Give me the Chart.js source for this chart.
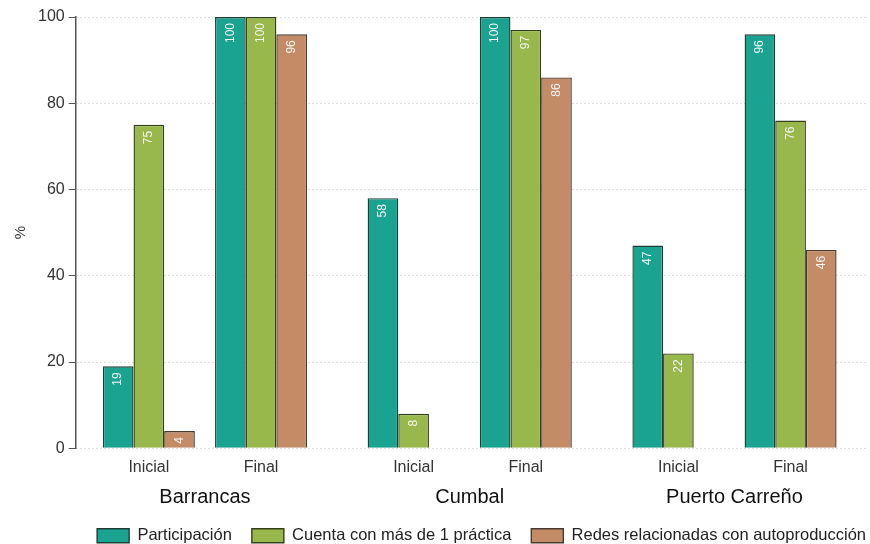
<!DOCTYPE html>
<html>
<head>
<meta charset="utf-8">
<script src="https://cdn.jsdelivr.net/npm/chart.js@4"></script>
<style>
  html, body { margin: 0; padding: 0; background: #fff; }
  #wrap { width: 870px; height: 544px; }
</style>
</head>
<body>
<div id="wrap"><canvas id="grafico"></canvas></div>
<script>
// datos
const paises = ['Barrancas', 'Cumbal', 'Puerto Carreño'];
const momentos = ['Inicial', 'Final'];
const participacion = [19, 100, 58, 100, 47, 96];
const cuentaPracticas = [75, 100, 8, 97, 22, 76];
const redesAutoproduccion = [4, 96, null, 86, null, 46];
const yTicks = [0, 20, 40, 60, 80, 100];

// separacion entre paises (en unidades de "momento")
const salto = 2.36;
const posicion = i => Math.floor(i / momentos.length) * salto + (i % momentos.length);
const posMomentos = participacion.map((v, i) => posicion(i));
const posPaises = paises.map((p, g) => g * salto + (momentos.length - 1) / 2);

const serie = arr => arr.map((v, i) => ({ x: posicion(i), y: v }));

const fuente = "'Liberation Sans', Arial, sans-serif";

// etiquetas verticales dentro de las barras
const etiquetas = {
    id: 'etiquetas',
    afterDatasetsDraw(chart) {
        const ctx = chart.ctx;
        ctx.save();
        ctx.font = '12px ' + fuente;
        ctx.fillStyle = '#f4f4f4';
        ctx.textAlign = 'right';
        ctx.textBaseline = 'middle';
        chart.data.datasets.forEach((ds, di) => {
            chart.getDatasetMeta(di).data.forEach((bar, i) => {
                const v = ds.data[i].y;
                if (v === null) return;
                ctx.save();
                ctx.translate(bar.x, bar.y + 6);
                ctx.rotate(-Math.PI / 2);
                ctx.fillText(String(v), 0, 0);
                ctx.restore();
            });
        });
        ctx.restore();
    }
};

// la leyenda queda pegada al borde derecho
const correrLeyenda = {
    id: 'correrLeyenda',
    afterLayout(chart) {
        if (chart.legend) {
            chart.legend.left += 18;
            chart.legend.right += 18;
        }
    }
};

const ctx = document.getElementById('grafico').getContext('2d');
new Chart(ctx, {
    type: 'bar',
    data: {
        datasets: [
            { label: 'Participación', data: serie(participacion),
              backgroundColor: '#1aa391', borderColor: '#1d3f37', borderWidth: 1.4 },
            { label: 'Cuenta con más de 1 práctica', data: serie(cuentaPracticas),
              backgroundColor: '#99b84b', borderColor: '#34401c', borderWidth: 1.4 },
            { label: 'Redes relacionadas con autoproducción', data: serie(redesAutoproduccion),
              backgroundColor: '#c38c66', borderColor: '#4a3a2e', borderWidth: 1.4 }
        ]
    },
    options: {
        responsive: true,
        maintainAspectRatio: false,
        animation: false,
        categoryPercentage: 0.82,
        barPercentage: 1,
        layout: { padding: { top: 17, right: 2, left: 8, bottom: -10 } },
        plugins: {
            tooltip: { enabled: false },
            legend: {
                position: 'bottom',
                align: 'end',
                labels: {
                    boxWidth: 32, boxHeight: 14, padding: 20,
                    color: '#222', font: { family: fuente, size: 16.5 }
                }
            }
        },
        scales: {
            x: {
                type: 'linear',
                offset: false,
                min: -0.652, max: 6.41,
                weight: 0,
                grid: { display: false },
                border: { display: false },
                afterBuildTicks: axis => { axis.ticks = posMomentos.map(v => ({ value: v })); },
                ticks: {
                    autoSkip: false, maxRotation: 0, padding: 2,
                    color: '#333', font: { family: fuente, size: 16 },
                    callback: (v, i) => momentos[i % momentos.length]
                }
            },
            x2: {
                type: 'linear',
                position: 'bottom',
                offset: false,
                min: -0.652, max: 6.41,
                weight: 1,
                grid: { display: false },
                border: { display: false },
                afterBuildTicks: axis => { axis.ticks = posPaises.map(v => ({ value: v })); },
                ticks: {
                    autoSkip: false, maxRotation: 0, padding: -2,
                    color: '#111', font: { family: fuente, size: 20 },
                    callback: (v, i) => paises[i]
                }
            },
            y: {
                min: 0, max: 100,
                afterBuildTicks: axis => { axis.ticks = yTicks.map(v => ({ value: v })); },
                grid: { color: '#bdbdbd', lineWidth: 1, tickColor: '#555', tickLength: 7, tickBorderDash: [] },
                border: { display: true, color: '#555', width: 1.5, dash: [1, 3] },
                ticks: { color: '#333', padding: 4, font: { family: fuente, size: 16 } },
                title: { display: true, text: '%', color: '#333', font: { family: fuente, size: 15 } }
            }
        }
    },
    plugins: [etiquetas, correrLeyenda]
});
</script>
</body>
</html>
